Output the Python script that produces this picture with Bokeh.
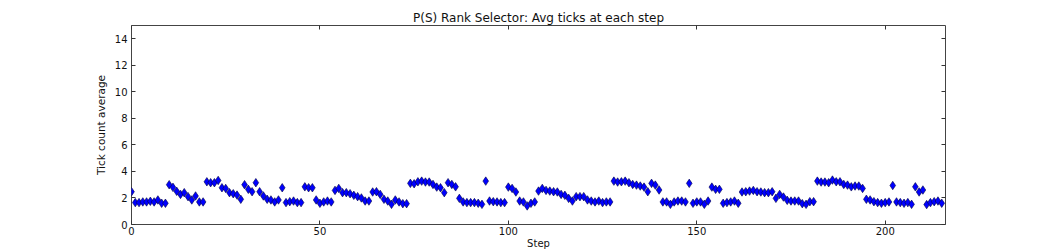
from bokeh.plotting import figure
from bokeh.models import FixedTicker, LinearAxis, Range1d, Title
from bokeh.embed import file_html
from bokeh.resources import INLINE

title_text = "P(S) Rank Selector: Avg ticks at each step"
x_label = "Step"
y_label = "Tick count average"
x_ticks = [0, 50, 100, 150, 200]
y_ticks = [0, 2, 4, 6, 8, 10, 12, 14]

avg_ticks = [
    2.47, 1.65, 1.65, 1.70, 1.70, 1.75, 1.70, 1.85, 1.60, 1.60,
    3.00, 2.80, 2.50, 2.27, 2.40, 2.10, 1.85, 2.15, 1.70, 1.70,
    3.22, 3.15, 3.15, 3.32, 2.77, 2.72, 2.40, 2.32, 2.22, 1.90,
    3.00, 2.65, 2.47, 3.15, 2.47, 2.15, 1.90, 1.85, 1.70, 1.85,
    2.77, 1.65, 1.72, 1.77, 1.65, 1.65, 2.84, 2.77, 2.77, 1.85,
    1.60, 1.70, 1.77, 1.70, 2.57, 2.72, 2.40, 2.40, 2.32, 2.20,
    2.10, 2.00, 1.77, 1.77, 2.45, 2.47, 2.27, 1.90, 1.77, 1.52,
    1.85, 1.70, 1.57, 1.57, 3.10, 3.07, 3.22, 3.27, 3.20, 3.20,
    3.02, 2.82, 2.77, 2.40, 3.15, 3.02, 2.84, 1.97, 1.70, 1.65,
    1.65, 1.65, 1.60, 1.52, 3.27, 1.77, 1.72, 1.70, 1.65, 1.65,
    2.82, 2.72, 2.45, 1.77, 1.70, 1.40, 1.60, 1.70, 2.52, 2.72,
    2.57, 2.52, 2.47, 2.45, 2.27, 2.20, 1.97, 1.77, 2.10, 2.10,
    2.10, 1.85, 1.77, 1.70, 1.77, 1.65, 1.70, 1.70, 3.27, 3.20,
    3.22, 3.27, 3.15, 3.02, 2.97, 2.90, 2.82, 2.47, 3.10, 2.97,
    2.60, 1.70, 1.70, 1.52, 1.70, 1.77, 1.77, 1.70, 3.10, 1.60,
    1.70, 1.70, 1.52, 1.77, 2.82, 2.65, 2.65, 1.60, 1.65, 1.70,
    1.77, 1.60, 2.45, 2.47, 2.52, 2.57, 2.47, 2.45, 2.40, 2.40,
    2.47, 1.97, 2.27, 2.07, 1.82, 1.77, 1.77, 1.77, 1.57, 1.52,
    1.72, 1.72, 3.27, 3.20, 3.20, 3.15, 3.35, 3.22, 3.22, 3.02,
    2.97, 2.84, 2.90, 2.90, 2.72, 1.90, 1.85, 1.72, 1.65, 1.60,
    1.65, 1.70, 2.94, 1.70, 1.65, 1.60, 1.65, 1.52, 2.84, 2.45,
    2.60, 1.50, 1.65, 1.72, 1.77, 1.60,
]
steps = list(range(len(avg_ticks)))

FONT = "DejaVu Sans"

p = figure(width=1050, height=251,
           x_range=Range1d(0, 216), y_range=Range1d(0, 15),
           output_backend="svg", toolbar_location=None,
           min_border_left=131, min_border_right=105,
           min_border_top=25, min_border_bottom=26)

p.xgrid.visible = False
p.ygrid.visible = False
p.outline_line_color = "#444444"
p.outline_line_width = 1
p.background_fill_color = "white"
p.border_fill_color = "white"

p.scatter(steps, avg_ticks, marker="diamond", size=8.5,
          fill_color="#0000ff", line_color="#000044", line_width=0.6)


def style_axis(ax, ticks, show_labels):
    ax.ticker = FixedTicker(ticks=ticks)
    ax.axis_line_color = None
    ax.major_tick_in = 4
    ax.major_tick_out = 0
    ax.major_tick_line_color = "#333333"
    ax.minor_tick_line_color = None
    ax.major_label_text_font = FONT
    ax.major_label_text_font_size = "10px"
    ax.major_label_text_color = "#111111"
    ax.major_label_standoff = 4
    if not show_labels:
        ax.major_label_text_alpha = 0
        ax.major_label_text_font_size = "1px"
        ax.major_label_standoff = 0


style_axis(p.xaxis[0], x_ticks, True)
style_axis(p.yaxis[0], y_ticks, True)

p.xaxis[0].major_label_standoff = 2
p.xaxis[0].axis_label = x_label
p.xaxis[0].axis_label_text_font = FONT
p.xaxis[0].axis_label_text_font_size = "10px"
p.xaxis[0].axis_label_text_font_style = "normal"
p.xaxis[0].axis_label_text_color = "#111111"
p.xaxis[0].axis_label_standoff = 0

p.yaxis[0].axis_label = y_label
p.yaxis[0].axis_label_text_font = FONT
p.yaxis[0].axis_label_text_font_size = "10.5px"
p.yaxis[0].axis_label_text_font_style = "normal"
p.yaxis[0].axis_label_text_color = "#111111"
p.yaxis[0].axis_label_standoff = 5

top_axis = LinearAxis()
style_axis(top_axis, x_ticks, False)
p.add_layout(top_axis, "above")
right_axis = LinearAxis()
style_axis(right_axis, y_ticks, False)
p.add_layout(right_axis, "right")

p.add_layout(Title(text=title_text, align="center", standoff=1,
                   text_font=FONT, text_font_size="12px",
                   text_font_style="normal", text_color="#111111"),
             "above")

open("out.html", "w").write(file_html(p, INLINE))
